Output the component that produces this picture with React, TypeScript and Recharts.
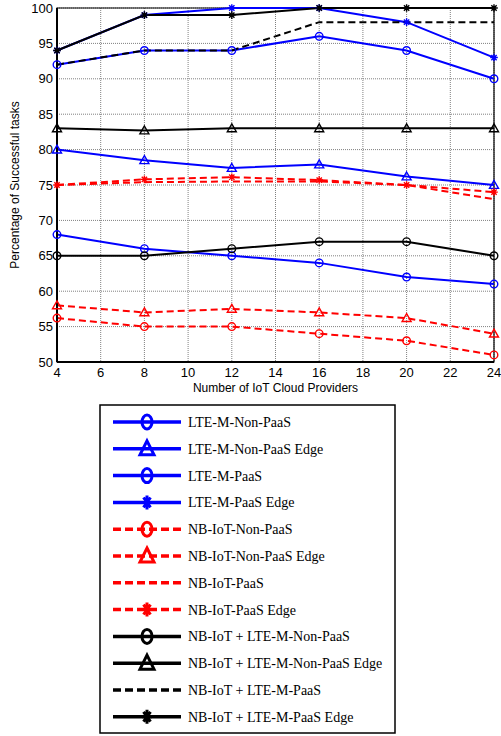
import React from "react";
import { LineChart, Line, XAxis, YAxis, CartesianGrid, ReferenceArea } from "recharts";

// x axis: number of IoT cloud providers
const providers = [4, 8, 12, 16, 20, 24];

// percentage of successful tasks
const lteNonPaas = [68, 66, 65, 64, 62, 61];
const lteNonPaasEdge = [80, 78.5, 77.4, 77.9, 76.2, 75];
const ltePaas = [92, 94, 94, 96, 94, 90];
const ltePaasEdge = [94, 99, 100, 100, 98, 93];
const nbNonPaas = [56.2, 55, 55, 54, 53, 51];
const nbNonPaasEdge = [58, 57, 57.5, 57, 56.2, 54];
const nbPaas = [75, 75.4, 75.5, 75.5, 75, 73];
const nbPaasEdge = [75, 75.8, 76.1, 75.7, 75, 74];
const hybridNonPaas = [65, 65, 66, 67, 67, 65];
const hybridNonPaasEdge = [83, 82.7, 83, 83, 83, 83];
const hybridPaas = [92, 94, 94, 98, 98, 98];
const hybridPaasEdge = [94, 99, 99, 100, 100, 100];

const xTicks = [4, 6, 8, 10, 12, 14, 16, 18, 20, 22, 24];
const yTicks = [50, 55, 60, 65, 70, 75, 80, 85, 90, 95, 100];

type Shape = "circle" | "triangle" | "star" | "none";

const series: { key: string; name: string; values: number[]; color: string; dashed: boolean; shape: Shape }[] = [
  { key: "s1", name: "LTE-M-Non-PaaS", values: lteNonPaas, color: "#0000ff", dashed: false, shape: "circle" },
  { key: "s2", name: "LTE-M-Non-PaaS Edge", values: lteNonPaasEdge, color: "#0000ff", dashed: false, shape: "triangle" },
  { key: "s3", name: "LTE-M-PaaS", values: ltePaas, color: "#0000ff", dashed: false, shape: "circle" },
  { key: "s4", name: "LTE-M-PaaS Edge", values: ltePaasEdge, color: "#0000ff", dashed: false, shape: "star" },
  { key: "s5", name: "NB-IoT-Non-PaaS", values: nbNonPaas, color: "#ff0000", dashed: true, shape: "circle" },
  { key: "s6", name: "NB-IoT-Non-PaaS Edge", values: nbNonPaasEdge, color: "#ff0000", dashed: true, shape: "triangle" },
  { key: "s7", name: "NB-IoT-PaaS", values: nbPaas, color: "#ff0000", dashed: true, shape: "none" },
  { key: "s8", name: "NB-IoT-PaaS Edge", values: nbPaasEdge, color: "#ff0000", dashed: true, shape: "star" },
  { key: "s9", name: "NB-IoT + LTE-M-Non-PaaS", values: hybridNonPaas, color: "#000000", dashed: false, shape: "circle" },
  { key: "s10", name: "NB-IoT + LTE-M-Non-PaaS Edge", values: hybridNonPaasEdge, color: "#000000", dashed: false, shape: "triangle" },
  { key: "s11", name: "NB-IoT + LTE-M-PaaS", values: hybridPaas, color: "#000000", dashed: true, shape: "none" },
  { key: "s12", name: "NB-IoT + LTE-M-PaaS Edge", values: hybridPaasEdge, color: "#000000", dashed: false, shape: "star" },
];

const data = providers.map((p, i) => {
  const row: Record<string, number> = { providers: p };
  series.forEach((s) => (row[s.key] = s.values[i]));
  return row;
});

function Marker({ shape, x, y, color, sx, sy, w }: { shape: Shape; x: number; y: number; color: string; sx: number; sy: number; w: number }) {
  if (shape === "circle") {
    return <ellipse cx={x} cy={y} rx={sx} ry={sy} fill="none" stroke={color} strokeWidth={w} />;
  }
  if (shape === "triangle") {
    return (
      <path
        d={`M${x},${y - sy} L${x + sx},${y + sy * 0.75} L${x - sx},${y + sy * 0.75} Z`}
        fill="none"
        stroke={color}
        strokeWidth={w}
      />
    );
  }
  if (shape === "star") {
    const d = sx * 0.7;
    const e = sy * 0.7;
    return (
      <path
        d={`M${x},${y - sy} L${x},${y + sy} M${x - sx},${y} L${x + sx},${y} M${x - d},${y - e} L${x + d},${y + e} M${x - d},${y + e} L${x + d},${y - e}`}
        stroke={color}
        strokeWidth={w}
        fill="none"
      />
    );
  }
  return null;
}

const dotFor = (shape: Shape, color: string) => (props: any) => {
  const { cx, cy, index } = props;
  if (shape === "none" || cx == null || cy == null) return <g key={`d-${index}`} />;
  return (
    <g key={`d-${index}`}>
      <Marker shape={shape} x={cx} y={cy} color={color} sx={shape === "triangle" ? 4.5 : 3.8} sy={shape === "triangle" ? 4.5 : 3.8} w={1.4} />
    </g>
  );
};

function LegendBox() {
  const rowGap = 26.8;
  return (
    <svg width={298} height={331} style={{ position: "absolute", left: 99, top: 404 }}>
      <rect x={1} y={1} width={295} height={328} fill="#fff" stroke="#000" strokeWidth={1.5} />
      {series.map((s, i) => {
        const y = 18 + i * rowGap;
        return (
          <g key={s.key}>
            <line
              x1={14}
              x2={82}
              y1={y}
              y2={y}
              stroke={s.color}
              strokeWidth={3.5}
              strokeDasharray={s.dashed ? "8 4" : undefined}
            />
            <Marker shape={s.shape} x={48} y={y} color={s.color} sx={s.shape === "triangle" ? 7 : 5} sy={s.shape === "triangle" ? 8 : 7} w={3} />
            <text
              x={89}
              y={y}
              dy="0.35em"
              fontFamily="'Liberation Serif', 'Times New Roman', serif"
              fontSize={14}
              fill="#000"
            >
              {s.name}
            </text>
          </g>
        );
      })}
    </svg>
  );
}

export default function App() {
  const tickStyle = { fontSize: 13, fill: "#000", fontFamily: "'Liberation Sans', Arial, sans-serif" };
  return (
    <div style={{ position: "absolute", left: 0, top: 0, width: 501, height: 736, background: "#fff" }}>
      <LineChart width={501} height={400} data={data} margin={{ top: 8, right: 7, left: 0, bottom: 0 }}>
        <CartesianGrid stroke="#808080" strokeDasharray="1 1" strokeWidth={1} />
        <XAxis
          dataKey="providers"
          type="number"
          domain={[4, 24]}
          ticks={xTicks}
          height={38}
          tickSize={0}
          tickMargin={6}
          tick={tickStyle}
          axisLine={{ stroke: "#000", strokeWidth: 2 }}
          label={{
            value: "Number of IoT Cloud Providers",
            position: "insideBottom",
            offset: 8,
            style: { fontSize: 12, fill: "#000", fontFamily: "'Liberation Sans', Arial, sans-serif" },
          }}
        />
        <YAxis
          type="number"
          domain={[50, 100]}
          ticks={yTicks}
          width={57}
          tickSize={0}
          tickMargin={4}
          tick={tickStyle}
          axisLine={{ stroke: "#000", strokeWidth: 2 }}
          label={{
            value: "Percentage of Successful tasks",
            angle: -90,
            position: "insideLeft",
            offset: 15,
            style: { textAnchor: "middle", fontSize: 12, fill: "#000", fontFamily: "'Liberation Sans', Arial, sans-serif" },
          }}
        />
        <ReferenceArea x1={4} x2={24} y1={50} y2={100} fill="none" stroke="#000" strokeWidth={1.2} />
        {series.map((s) => (
          <Line
            key={s.key}
            dataKey={s.key}
            name={s.name}
            type="linear"
            stroke={s.color}
            strokeWidth={2}
            strokeDasharray={s.dashed ? "7 4" : undefined}
            dot={dotFor(s.shape, s.color)}
            activeDot={false}
            isAnimationActive={false}
          />
        ))}
      </LineChart>
      <LegendBox />
    </div>
  );
}
